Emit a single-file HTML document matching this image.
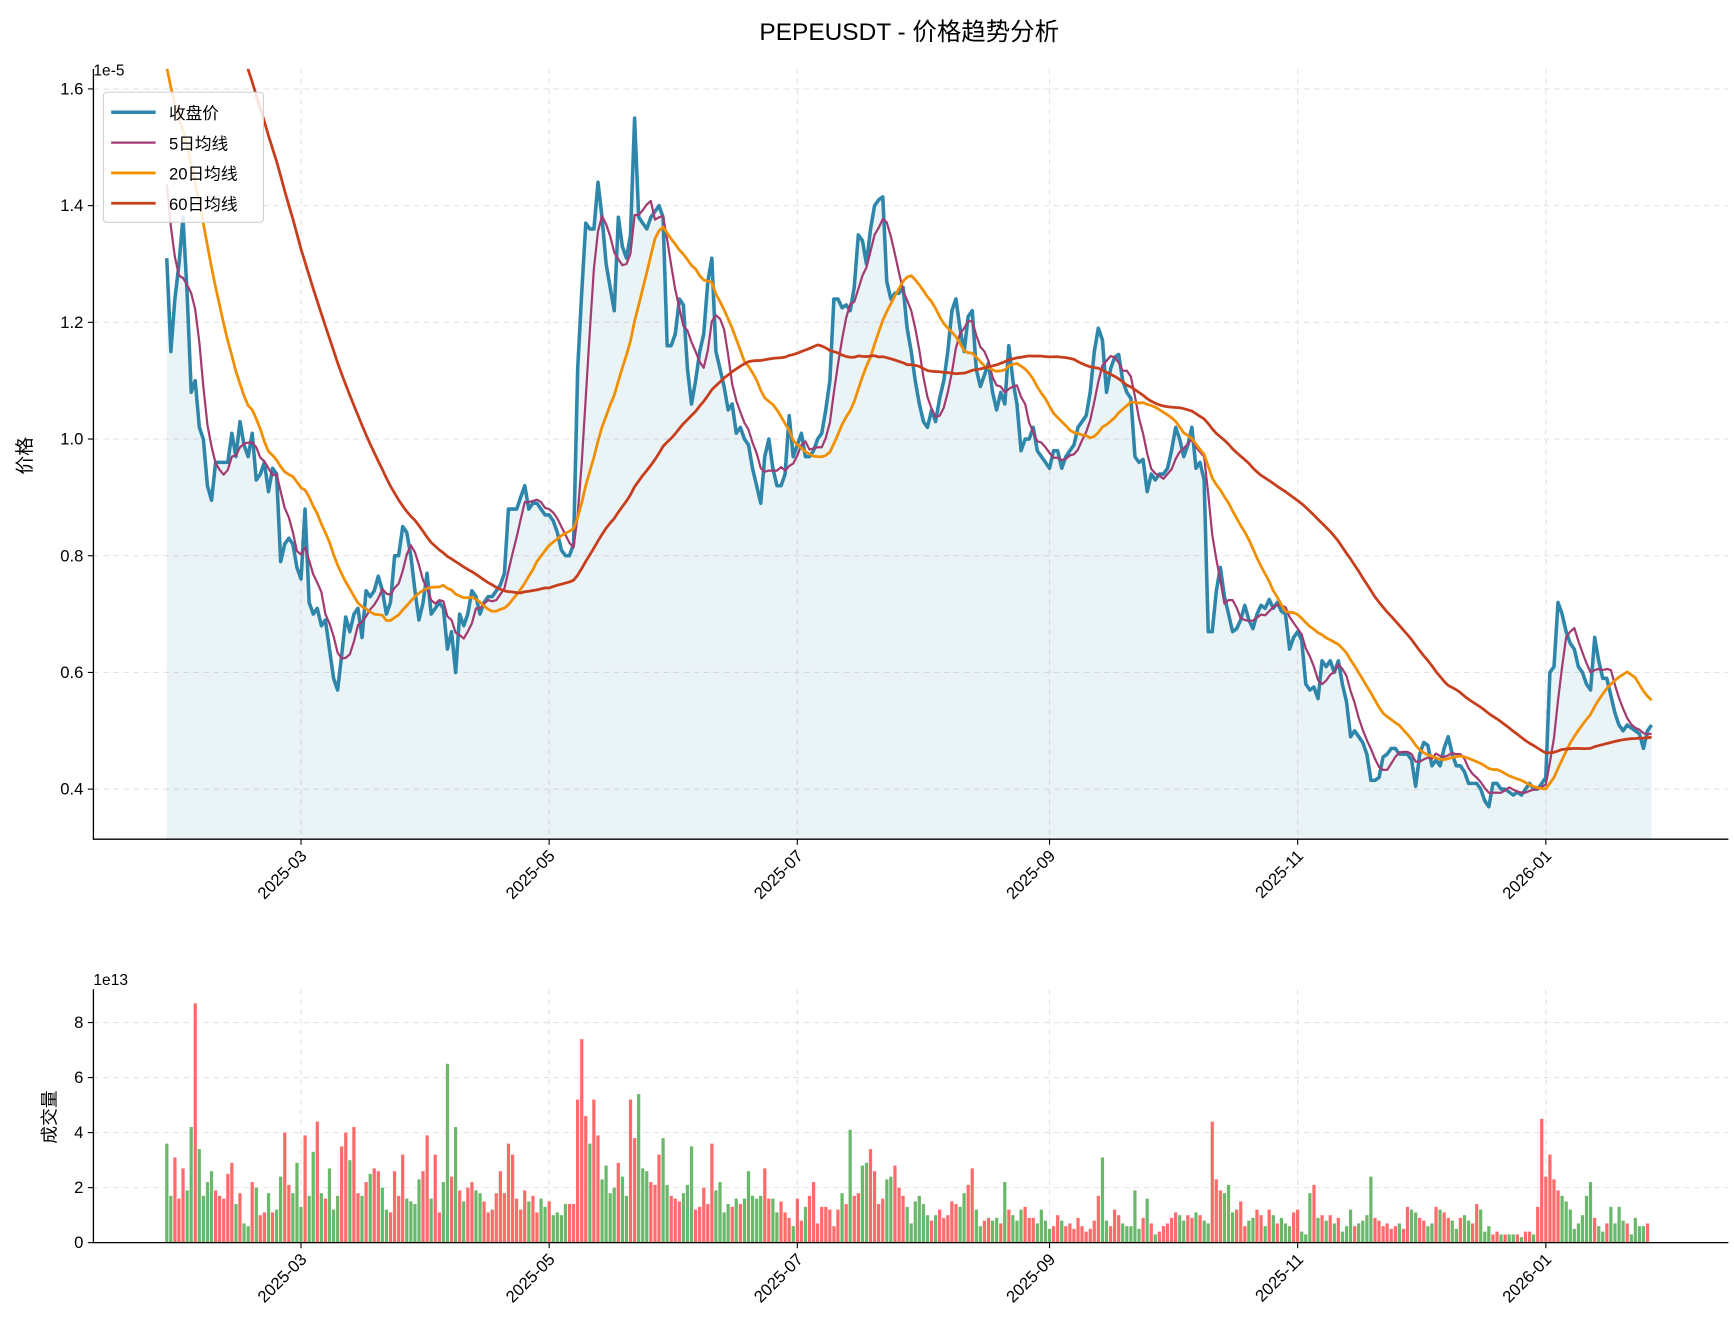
<!DOCTYPE html>
<html><head><meta charset="utf-8"><style>
html,body{margin:0;padding:0;background:#fff}
svg{display:block}
text{font-family:"WenQuanYi Zen Hei Mono","WenQuanYi Zen Hei","Liberation Sans","Noto Sans CJK SC",sans-serif;fill:#000}
</style></head><body>
<svg id="chart" width="1734" height="1332" viewBox="0 0 1560 1198.4" xmlns="http://www.w3.org/2000/svg">
<rect width="1560" height="1199" fill="#fff"/>
<text x="818" y="36" font-size="22" text-anchor="middle">PEPEUSDT - 价格趋势分析</text>
<g id="price"></g><g id="vol"></g>
</svg>
<script>
const prehistory=[2.3,2.35,2.28,2.4,2.32,2.25,2.3,2.38,2.42,2.3,2.22,2.28,2.35,2.3,2.26,2.32,2.4,2.36,2.3,2.25,2.28,2.33,2.3,2.27,2.35,2.31,2.24,2.29,2.36,2.3,2.25,2.3,2.34,2.2,2.1,2.05,2.0,1.98,1.95,1.9,1.85,1.82,1.8,1.78,1.75,1.76,1.72,1.7,1.7,1.68,1.65,1.62,1.6,1.58,1.55,1.52,1.5,1.46,1.4];
const closes=[1.31,1.15,1.24,1.30,1.38,1.25,1.08,1.10,1.02,1.00,0.92,0.895,0.96,0.96,0.96,0.96,1.01,0.97,1.03,0.99,0.97,1.01,0.93,0.94,0.96,0.91,0.95,0.94,0.79,0.82,0.83,0.82,0.78,0.76,0.88,0.72,0.70,0.71,0.68,0.69,0.64,0.59,0.57,0.63,0.695,0.67,0.70,0.71,0.66,0.74,0.73,0.74,0.765,0.74,0.70,0.72,0.80,0.80,0.85,0.84,0.80,0.74,0.69,0.72,0.77,0.70,0.71,0.72,0.71,0.64,0.67,0.60,0.70,0.68,0.70,0.74,0.73,0.70,0.72,0.73,0.73,0.74,0.75,0.77,0.88,0.88,0.88,0.90,0.92,0.88,0.89,0.89,0.88,0.87,0.87,0.86,0.84,0.81,0.80,0.80,0.82,1.12,1.25,1.37,1.36,1.36,1.44,1.38,1.30,1.26,1.22,1.38,1.33,1.31,1.35,1.55,1.38,1.37,1.36,1.38,1.39,1.40,1.38,1.16,1.16,1.18,1.24,1.23,1.12,1.06,1.10,1.15,1.18,1.27,1.31,1.15,1.12,1.09,1.05,1.06,1.01,1.02,1.00,0.99,0.95,0.92,0.89,0.97,1.00,0.95,0.92,0.92,0.94,1.04,0.97,0.99,1.01,0.97,0.97,0.98,1.00,1.01,1.05,1.10,1.24,1.24,1.225,1.23,1.22,1.26,1.35,1.34,1.30,1.36,1.40,1.41,1.415,1.27,1.24,1.25,1.25,1.26,1.19,1.15,1.10,1.06,1.03,1.02,1.05,1.03,1.07,1.10,1.15,1.22,1.24,1.19,1.15,1.21,1.22,1.12,1.09,1.11,1.13,1.08,1.05,1.08,1.06,1.16,1.10,1.06,0.98,1.00,1.00,1.02,0.98,0.97,0.96,0.95,0.98,0.98,0.95,0.97,0.98,0.99,1.02,1.03,1.04,1.08,1.15,1.19,1.17,1.08,1.12,1.14,1.145,1.10,1.08,1.07,0.97,0.96,0.965,0.91,0.94,0.93,0.94,0.94,0.95,0.98,1.02,1.00,0.97,0.99,1.02,0.95,0.96,0.93,0.67,0.67,0.74,0.78,0.73,0.70,0.67,0.675,0.69,0.715,0.69,0.675,0.70,0.715,0.71,0.725,0.71,0.72,0.705,0.70,0.64,0.66,0.67,0.655,0.58,0.57,0.575,0.555,0.62,0.61,0.62,0.60,0.62,0.58,0.55,0.49,0.50,0.49,0.48,0.46,0.415,0.415,0.42,0.455,0.46,0.47,0.47,0.46,0.46,0.46,0.45,0.405,0.46,0.48,0.475,0.44,0.45,0.44,0.47,0.49,0.46,0.44,0.44,0.43,0.41,0.41,0.41,0.40,0.38,0.37,0.41,0.41,0.40,0.40,0.395,0.39,0.395,0.39,0.40,0.41,0.40,0.40,0.41,0.42,0.60,0.61,0.72,0.70,0.67,0.65,0.64,0.61,0.60,0.58,0.57,0.66,0.62,0.59,0.59,0.56,0.53,0.51,0.50,0.51,0.505,0.50,0.495,0.47,0.50,0.51];
const volumes=[3.6,1.7,3.1,1.6,2.7,1.9,4.2,8.7,3.4,1.7,2.2,2.6,1.9,1.7,1.6,2.5,2.9,1.4,1.8,0.7,0.6,2.2,2.0,1.0,1.1,1.8,1.1,1.2,2.4,4.0,2.1,1.8,2.9,1.3,3.9,1.7,3.3,4.4,1.8,1.6,2.7,1.2,1.7,3.5,4.0,3.0,4.2,1.8,1.7,2.2,2.5,2.7,2.6,2.0,1.2,1.1,2.6,1.7,3.2,1.6,1.5,1.4,2.3,2.6,3.9,1.6,3.2,1.1,2.2,6.5,2.4,4.2,1.9,1.5,2.0,2.2,1.9,1.8,1.5,1.1,1.2,1.8,2.6,1.8,3.6,3.2,1.6,1.2,1.9,1.5,1.7,1.1,1.6,1.3,1.5,1.0,1.1,1.0,1.4,1.4,1.4,5.2,7.4,4.6,3.6,5.2,3.9,2.3,2.8,1.8,2.0,2.9,2.4,1.7,5.2,3.8,5.4,2.7,2.6,2.2,2.1,3.2,3.8,2.1,1.7,1.6,1.5,1.8,2.1,3.5,1.2,1.3,2.0,1.4,3.6,1.9,2.2,1.1,1.4,1.3,1.6,1.4,1.6,2.6,1.7,1.6,1.7,2.7,1.6,1.6,1.1,1.5,1.1,0.9,0.6,1.6,0.8,1.3,1.7,2.2,0.7,1.3,1.3,1.2,0.6,1.2,1.8,1.4,4.1,1.7,1.8,2.8,2.9,3.4,2.6,1.4,1.6,2.3,2.4,2.8,2.0,1.7,1.3,0.7,1.5,1.7,1.4,1.0,0.8,1.0,1.2,0.9,1.0,1.5,1.4,1.3,1.8,2.1,2.7,1.2,0.6,0.8,0.9,0.8,0.9,0.7,2.2,1.2,1.0,0.8,1.2,1.3,0.9,0.9,0.7,1.2,0.8,0.5,0.6,1.0,0.8,0.6,0.7,0.5,0.9,0.6,0.4,0.5,0.8,1.7,3.1,0.8,0.6,1.2,1.0,0.7,0.6,0.6,1.9,0.5,0.9,1.6,0.7,0.3,0.4,0.6,0.7,0.9,1.1,1.0,0.8,1.0,0.9,1.1,1.0,0.8,0.7,4.4,2.3,1.9,1.8,2.1,1.1,1.2,1.5,0.6,0.8,0.9,1.2,1.0,0.6,1.2,1.0,0.7,0.9,0.7,0.6,1.1,1.2,0.4,0.3,1.8,2.1,0.9,1.0,0.8,1.0,0.7,0.9,0.4,0.6,1.2,0.6,0.7,0.8,1.0,2.4,0.9,0.8,0.6,0.7,0.5,0.6,0.7,0.5,1.3,1.2,1.1,0.9,0.8,0.6,0.7,1.3,1.2,1.1,0.9,0.8,0.5,0.9,1.0,0.8,0.7,1.4,1.2,0.4,0.6,0.3,0.4,0.3,0.3,0.3,0.3,0.3,0.2,0.4,0.4,0.3,1.3,4.5,2.4,3.2,2.3,1.9,1.7,1.5,1.2,0.5,0.7,1.0,1.7,2.2,0.9,0.6,0.4,0.7,1.3,0.7,1.3,0.8,0.7,0.3,0.9,0.6,0.6,0.7];
const priceTicks=[0.4,0.6,0.8,1.0,1.2,1.4,1.6];
const priceTickLabels=["0.4","0.6","0.8","1.0","1.2","1.4","1.6"];
const volTicks=[0,2,4,6,8];
const dateTickDays=[33,94,155,217,278,339];
const dateTickLabels=["2025-03","2025-05","2025-07","2025-09","2025-11","2026-01"];

const NS="http://www.w3.org/2000/svg";
const L=84,R=1555,PT=62,PB=755,VT=890,VB=1118;
const X=d=>150+d*3.66;
const YP=v=>80+(1.6-v)*525;
const YV=v=>VB-v*24.75;
function mk(parent,tag,attrs,txt){const e=document.createElementNS(NS,tag);for(const k in attrs)e.setAttribute(k,attrs[k]);if(txt!==undefined)e.textContent=txt;parent.appendChild(e);return e;}
const gp=document.getElementById('price'),gv=document.getElementById('vol');
const clipDefs=mk(document.getElementById('chart'),'defs',{});
const cp=mk(clipDefs,'clipPath',{id:'pclip'});mk(cp,'rect',{x:L,y:PT,width:R-L,height:PB-PT});

function grid(g,top,bot,ys){
  dateTickDays.forEach(d=>{const l=mk(g,'line',{x1:X(d),x2:X(d),y1:top,y2:bot,stroke:'#e3e3e3','stroke-dasharray':'5,4','stroke-width':1});
  
  });
  ys.forEach(y=>{const l=mk(g,'line',{x1:L,x2:R,y1:y,y2:y,stroke:'#e3e3e3','stroke-dasharray':'5,4','stroke-width':1});
  
  });
}
grid(gp,PT,PB,priceTicks.map(YP));
grid(gv,VT,VB,volTicks.map(YV));

const all=prehistory.concat(closes);const P=prehistory.length;
function ma(n){return closes.map((c,i)=>{let s=0;for(let k=0;k<n;k++)s+=all[P+i-k];return s/n;});}
const ma5=ma(5),ma20=ma(20),ma60=ma(60);

const plot=mk(gp,'g',{'clip-path':'url(#pclip)'});
let fillD='M'+X(0)+','+PB;closes.forEach((c,i)=>fillD+=' L'+X(i).toFixed(1)+','+YP(c).toFixed(1));fillD+=' L'+X(closes.length-1)+','+PB+'Z';
const fa=mk(plot,'path',{d:fillD,fill:'#2e86ab','fill-opacity':0.1});


function line(arr,color,w,name){const d=arr.map((v,i)=>(i?'L':'M')+X(i).toFixed(1)+','+YP(v).toFixed(1)).join(' ');
  const p=mk(plot,'path',{d:d,fill:'none',stroke:color,'stroke-width':w,'stroke-linejoin':'round'});
  
  }
line(closes,'#2e86ab',3.2,'close-price-line');
line(ma5,'#a23b72',2,'ma5-line');
line(ma20,'#f18f01',2.5,'ma20-line');
line(ma60,'#c73e1d',2.5,'ma60-line');

volumes.forEach((v,i)=>{const up=i===0?false:closes[i]>=closes[i-1];
  const b=mk(gv,'rect',{x:(X(i)-1.45).toFixed(1),y:YV(v).toFixed(1),width:2.9,height:(v*24.75).toFixed(1),fill:up?'#ff6b6b':'#6ab96a'});
  
  });

function axes(g,top,bot,yt,yl,ylabels,name){
  const a=mk(g,'path',{d:`M${L},${top} L${L},${bot} L${R},${bot}`,fill:'none',stroke:'#000','stroke-width':1.2});
  
  
  yt.forEach((v,i)=>{const y=yl(v);mk(g,'line',{x1:L-5,x2:L,y1:y,y2:y,stroke:'#000'});
    const t=mk(g,'text',{x:L-9,y:y+5,'font-size':15,'text-anchor':'end'},ylabels[i]);
    
    });
  dateTickDays.forEach((d,i)=>{const x=X(d);mk(g,'line',{x1:x,x2:x,y1:bot,y2:bot+5,stroke:'#000'});
    const t=mk(g,'text',{x:x+6,y:bot+16,'font-size':15,'text-anchor':'end',transform:`rotate(-45 ${x+6} ${bot+16})`},dateTickLabels[i]);
    
    });
}
axes(gp,PT,PB,priceTicks,YP,priceTickLabels,'price');
axes(gv,VT,VB,volTicks,YV,volTicks.map(String),'volume');

const e1=mk(gp,'text',{x:L,y:PT+6,'font-size':14},'1e-5');


const e2=mk(gv,'text',{x:L,y:VT-4,'font-size':14},'1e13');


const yl1=mk(gp,'text',{x:28,y:410,'font-size':17,'text-anchor':'middle',transform:'rotate(-90 28 410)'},'价格');


const yl2=mk(gv,'text',{x:50,y:1005,'font-size':16,'text-anchor':'middle',transform:'rotate(-90 50 1005)'},'成交量');



const lg=mk(gp,'g',{});


mk(lg,'rect',{x:93,y:83,width:144,height:117,rx:3,fill:'#fff','fill-opacity':0.85,stroke:'#d0d0d0'});
const legNames=['收盘价','5日均线','20日均线','60日均线'];
const legColors=['#2e86ab','#a23b72','#f18f01','#c73e1d'];
const legW=[3.2,2,2.5,2.5];
legNames.forEach((n,i)=>{const y=101+i*27.3;
  const it=mk(lg,'g',{});
  
  
  mk(it,'line',{x1:100,x2:140,y1:y,y2:y,stroke:legColors[i],'stroke-width':legW[i]});
  mk(it,'text',{x:152,y:y+6,'font-size':15},n);});
</script>
</body></html>
